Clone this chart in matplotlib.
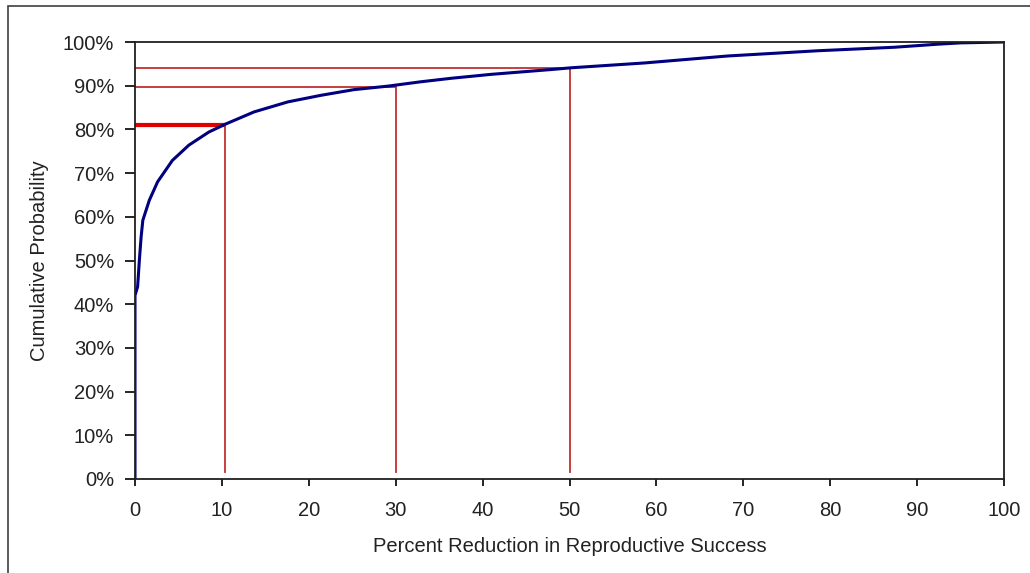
import numpy as np
import matplotlib.pyplot as plt
from matplotlib.patches import Rectangle
from matplotlib.ticker import PercentFormatter

plt.rcParams['font.family'] = ['Liberation Sans', 'DejaVu Sans']

# cumulative curve (x in %, probability in %)
reduction = [0, 0, 0.3, 0.5, 0.7, 0.9, 1.65, 2.6, 4.3, 6.2, 8.5, 10.4, 13.7, 17.6,
             21.4, 25.2, 29.1, 32.9, 36.4, 41, 47.9, 50.2, 58.6, 68.2, 78.6, 87.4,
             92.4, 95, 100]
cum_prob = [0, 42, 44, 50, 55.3, 59.2, 63.8, 68, 72.9, 76.4, 79.4, 81.2, 84, 86.3,
            87.8, 89.1, 89.9, 90.9, 91.7, 92.6, 93.7, 94.1, 95.2, 96.8, 98, 98.8,
            99.5, 99.8, 100]

# reference markers: (x, y level)
marker_x = [10.4, 30, 50]
marker_y = [81.1, 89.6, 94.0]
marker_w = [3, 1.3, 1.3]
marker_c = ['#e00000', '#c03030', '#c03030']

fig = plt.figure(figsize=(10.30, 5.73), dpi=100)
fig.patches.append(Rectangle((8/1030, -0.1), 1.2, 1 - 6/573 + 0.1, transform=fig.transFigure,
                             fill=False, edgecolor='#404040', lw=1.2))
ax = fig.add_axes([135/1030, 1 - 479/573, 869/1030, 437/573])

for x, y, w, c in zip(marker_x, marker_y, marker_w, marker_c):
    ax.plot([0, x], [y, y], color=c, lw=w, solid_capstyle='butt')
    ax.plot([x, x], [1.5, y], color='#c03030', lw=1.3)

ax.plot(reduction, cum_prob, color='#000080', lw=2.2)

ax.set_xlim(0, 100)
ax.set_ylim(0, 100)
ax.set_xticks(np.arange(0, 101, 10))
ax.set_yticks(np.arange(0, 101, 10))
ax.yaxis.set_major_formatter(PercentFormatter(decimals=0))
ax.tick_params(direction='out', width=1.2, labelsize=14.5, color='black', labelcolor='#222222')
ax.tick_params(axis='x', length=5, pad=11)
ax.tick_params(axis='y', length=7, pad=8)
for s in ax.spines.values():
    s.set_linewidth(1.3)
    s.set_color('#202020')

ax.set_xlabel('Percent Reduction in Reproductive Success', fontsize=14.5, color='#222222')
ax.set_ylabel('Cumulative Probability', fontsize=14.5, color='#222222')
ax.xaxis.set_label_coords(0.5, (479 - 547) / 437)
ax.xaxis.label.set_verticalalignment('center')
ax.yaxis.set_label_coords((40 - 135) / 869, 0.5)
ax.yaxis.label.set_verticalalignment('center')

fig.savefig('out.png', dpi=100)
